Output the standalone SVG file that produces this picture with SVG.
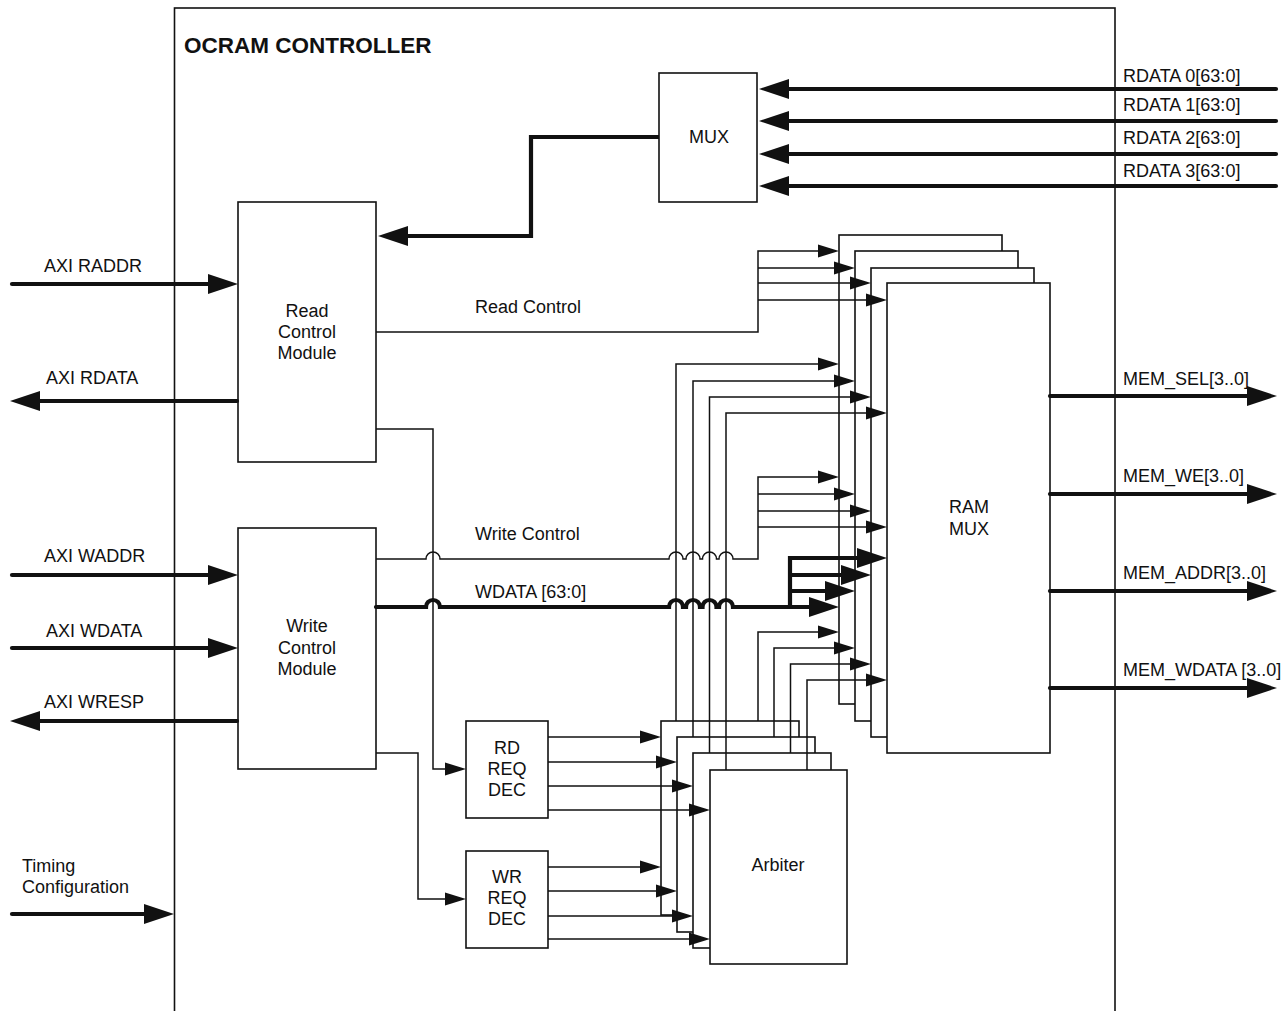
<svg xmlns="http://www.w3.org/2000/svg" width="1288" height="1011" viewBox="0 0 1288 1011">
<style>
  .box { fill: #fff; stroke: #111; stroke-width: 1.6; }
  .frame { fill: none; stroke: #111; stroke-width: 1.6; }
  .t { font-family: "Liberation Sans", Arial, sans-serif; font-size: 18px; fill: #111; }
  .c { text-anchor: middle; }
  .title { font-family: "Liberation Sans", Arial, sans-serif; font-size: 22.5px; font-weight: bold; fill: #111; }
  .thin { fill: none; stroke: #111; stroke-width: 1.5; }
  .thick { fill: none; stroke: #111; stroke-width: 4.2; stroke-linecap: round; }
  .thickb { fill: none; stroke: #111; stroke-width: 4.2; stroke-linecap: butt; }
</style>
<defs>
  <marker id="ah" markerUnits="userSpaceOnUse" markerWidth="31" markerHeight="21" refX="1" refY="10" orient="auto" overflow="visible">
    <path d="M0,0 L30,10 L0,20 z" fill="#111"/>
  </marker>
  <marker id="at" markerUnits="userSpaceOnUse" markerWidth="22" markerHeight="14" refX="1" refY="6.5" orient="auto" overflow="visible">
    <path d="M0,0 L21,6.5 L0,13 z" fill="#111"/>
  </marker>
</defs>

<g id="ocram-controller">
  <rect class="frame" x="174.5" y="8" width="940.5" height="1015"/>
  <text class="title" x="184" y="53">OCRAM CONTROLLER</text>
</g>

<g id="mux">
  <rect class="box" x="659" y="73" width="98" height="129"/>
  <text class="t c" x="709" y="143">MUX</text>
</g>

<g id="read-control-module">
  <rect class="box" x="238" y="202" width="138" height="260"/>
  <text class="t c" x="307" y="317">Read</text>
  <text class="t c" x="307" y="338">Control</text>
  <text class="t c" x="307" y="359">Module</text>
</g>

<g id="write-control-module">
  <rect class="box" x="238" y="528" width="138" height="241"/>
  <text class="t c" x="307" y="632">Write</text>
  <text class="t c" x="307" y="654">Control</text>
  <text class="t c" x="307" y="675">Module</text>
</g>

<g id="rd-req-dec">
  <rect class="box" x="466" y="721" width="82" height="97"/>
  <text class="t c" x="507" y="754">RD</text>
  <text class="t c" x="507" y="775">REQ</text>
  <text class="t c" x="507" y="796">DEC</text>
</g>

<g id="wr-req-dec">
  <rect class="box" x="466" y="851" width="82" height="97"/>
  <text class="t c" x="507" y="883">WR</text>
  <text class="t c" x="507" y="904">REQ</text>
  <text class="t c" x="507" y="925">DEC</text>
</g>

<g id="ram-mux">
  <rect class="box" x="839" y="235" width="163" height="469"/>
  <rect class="box" x="855" y="251" width="163" height="470"/>
  <rect class="box" x="871" y="268" width="163" height="469"/>
  <rect class="box" x="887" y="283" width="163" height="470"/>
  <text class="t c" x="969" y="513">RAM</text>
  <text class="t c" x="969" y="535">MUX</text>
</g>

<g id="arbiter">
  <rect class="box" x="661" y="721" width="138" height="194"/>
  <rect class="box" x="677" y="737" width="138" height="195"/>
  <rect class="box" x="693" y="753" width="138" height="195"/>
  <rect class="box" x="710" y="770" width="137" height="194"/>
  <text class="t c" x="778" y="871">Arbiter</text>
</g>

<g id="connectors">
  <!-- RDATA inputs to MUX -->
  <path class="thick" d="M1276,89 H788" marker-end="url(#ah)"/>
  <path class="thick" d="M1276,121 H788" marker-end="url(#ah)"/>
  <path class="thick" d="M1276,154 H788" marker-end="url(#ah)"/>
  <path class="thick" d="M1276,186 H788" marker-end="url(#ah)"/>
  <!-- MUX to Read Control Module -->
  <path class="thickb" d="M659,137 H531 V236 H407" marker-end="url(#ah)"/>
  <!-- AXI ports -->
  <path class="thick" d="M12,284 H209" marker-end="url(#ah)"/>
  <path class="thick" d="M237,401 H39" marker-end="url(#ah)"/>
  <path class="thick" d="M12,575 H209" marker-end="url(#ah)"/>
  <path class="thick" d="M12,648 H209" marker-end="url(#ah)"/>
  <path class="thick" d="M237,721 H39" marker-end="url(#ah)"/>
  <path class="thick" d="M12,914 H145" marker-end="url(#ah)"/>
  <!-- MEM outputs -->
  <path class="thick" d="M1050,396 H1248" marker-end="url(#ah)"/>
  <path class="thick" d="M1050,494 H1248" marker-end="url(#ah)"/>
  <path class="thick" d="M1050,591 H1248" marker-end="url(#ah)"/>
  <path class="thick" d="M1050,688 H1248" marker-end="url(#ah)"/>
  <!-- Read Control -->
  <path class="thin" d="M376,332 H758 V251 H819" marker-end="url(#at)"/>
  <path class="thin" d="M758,268 H835" marker-end="url(#at)"/>
  <path class="thin" d="M758,283 H851" marker-end="url(#at)"/>
  <path class="thin" d="M758,300 H867" marker-end="url(#at)"/>
  <!-- Write Control with hops -->
  <path class="thin" d="M376,559 H426 a7,7 0 0 1 14,0 H669 a7,7 0 0 1 14,0 H686 a7,7 0 0 1 14,0 H702.5 a7,7 0 0 1 14,0 H719 a7,7 0 0 1 14,0 H758 V477 H819" marker-end="url(#at)"/>
  <path class="thin" d="M758,494 H835" marker-end="url(#at)"/>
  <path class="thin" d="M758,511 H851" marker-end="url(#at)"/>
  <path class="thin" d="M758,527 H867" marker-end="url(#at)"/>
  <!-- WDATA with hops -->
  <path class="thick" d="M376,607 H426 a7,7 0 0 1 14,0 H669 a7,7 0 0 1 14,0 H686 a7,7 0 0 1 14,0 H702.5 a7,7 0 0 1 14,0 H719 a7,7 0 0 1 14,0 H810" marker-end="url(#ah)"/>
  <path class="thickb" d="M790,609 V556"/>
  <path class="thickb" d="M788,558 H858" marker-end="url(#ah)"/>
  <path class="thickb" d="M790,575 H842" marker-end="url(#ah)"/>
  <path class="thickb" d="M790,591 H826" marker-end="url(#ah)"/>
  <!-- Read module to RD REQ DEC -->
  <path class="thin" d="M376,429 H433 V769 H446" marker-end="url(#at)"/>
  <!-- Write module to WR REQ DEC -->
  <path class="thin" d="M376,753 H418 V899 H446" marker-end="url(#at)"/>
  <!-- RD REQ DEC to Arbiter -->
  <path class="thin" d="M548,737 H641" marker-end="url(#at)"/>
  <path class="thin" d="M548,762 H657" marker-end="url(#at)"/>
  <path class="thin" d="M548,786 H673" marker-end="url(#at)"/>
  <path class="thin" d="M548,810 H690" marker-end="url(#at)"/>
  <!-- WR REQ DEC to Arbiter -->
  <path class="thin" d="M548,867 H641" marker-end="url(#at)"/>
  <path class="thin" d="M548,891 H657" marker-end="url(#at)"/>
  <path class="thin" d="M548,916 H673" marker-end="url(#at)"/>
  <path class="thin" d="M548,939 H690" marker-end="url(#at)"/>
  <!-- Arbiter to RAM MUX (upper group) -->
  <path class="thin" d="M676,721 V364 H819" marker-end="url(#at)"/>
  <path class="thin" d="M693,737 V381 H835" marker-end="url(#at)"/>
  <path class="thin" d="M709.5,753 V397 H851" marker-end="url(#at)"/>
  <path class="thin" d="M726,770 V413 H867" marker-end="url(#at)"/>
  <!-- Arbiter to RAM MUX (lower group) -->
  <path class="thin" d="M758,721 V632 H819" marker-end="url(#at)"/>
  <path class="thin" d="M774,737 V648 H835" marker-end="url(#at)"/>
  <path class="thin" d="M790.5,753 V664 H851" marker-end="url(#at)"/>
  <path class="thin" d="M807,770 V680 H867" marker-end="url(#at)"/>
</g>

<g id="labels">
  <text class="t" x="1123" y="82">RDATA 0[63:0]</text>
  <text class="t" x="1123" y="111">RDATA 1[63:0]</text>
  <text class="t" x="1123" y="144">RDATA 2[63:0]</text>
  <text class="t" x="1123" y="177">RDATA 3[63:0]</text>
  <text class="t" x="44" y="272">AXI RADDR</text>
  <text class="t" x="46" y="384">AXI RDATA</text>
  <text class="t" x="44" y="562">AXI WADDR</text>
  <text class="t" x="46" y="637">AXI WDATA</text>
  <text class="t" x="44" y="708">AXI WRESP</text>
  <text class="t" x="22" y="872">Timing</text>
  <text class="t" x="22" y="893">Configuration</text>
  <text class="t" x="475" y="313">Read Control</text>
  <text class="t" x="475" y="540">Write Control</text>
  <text class="t" x="475" y="598">WDATA [63:0]</text>
  <text class="t" x="1123" y="385">MEM_SEL[3..0]</text>
  <text class="t" x="1123" y="482">MEM_WE[3..0]</text>
  <text class="t" x="1123" y="579">MEM_ADDR[3..0]</text>
  <text class="t" x="1123" y="676">MEM_WDATA [3..0]</text>
</g>
</svg>
